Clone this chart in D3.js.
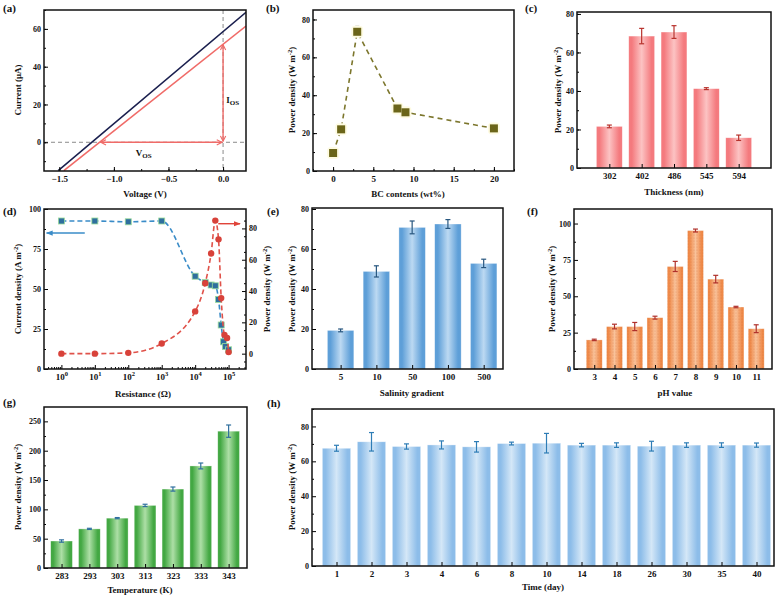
<!DOCTYPE html>
<html><head><meta charset="utf-8">
<script src="https://cdn.jsdelivr.net/npm/d3@7"></script>
<style>
body{margin:0;background:#fff}
svg{display:block}
text{font-family:"Liberation Serif","Times New Roman",serif;font-weight:bold;fill:#111}
.yt text{font-size:8px}
.xt text{font-size:9px}
.ttl{font-size:9px}
.lbl{font-size:11px}
</style>
</head><body>
<svg id="c" width="780" height="597"></svg>
<script>
// ---------- data ----------
// (a)
const aNavyV=[-1.51,0.21], aNavyI=[-15,68.8];
const aRedV=[-1.458,0.21], aRedI=[-15,61.5];
const aVosV=[-1.12,-0.01], aIosI=[0.6,51.6];
// (b)
const bContent=[0,1,3,8,9,20];
const bPower=[9.5,22,73.5,33,31,22.5];
const bErr=[0,0,3,0,0,0];
// (c)
const cThickness=["302","402","486","545","594"];
const cPower=[21.6,68.5,70.6,41.2,15.7];
const cErr=[0.7,4,3.3,0.5,1.4];
// (d)
const dResJ=[1,10,100,1000,10000,20000,30000,40000,50000,60000,70000,80000,100000];
const dJ=[92.5,92.5,92,92.5,58,54,52.5,52,43.5,27.5,17,14,12];
const dResP=[1,10,100,1000,10000,20000,30000,40000,50000,60000,75000,90000,100000];
const dP=[0,0,0.5,6.5,27,45,64,85,73,35.5,12,10,1];
const dArrowJ={y:85, r0:0.36, r1:5};
const dArrowP={y:83, r0:49000, r1:219000};
// (e)
const eGradient=["5","10","50","100","500"];
const ePower=[19.3,48.8,70.8,72.5,52.8];
const eErr=[0.7,2.8,3.2,2.2,2.1];
// (f)
const fPH=["3","4","5","6","7","8","9","10","11"];
const fPower=[20,29.2,29.2,35.3,70.5,95.2,61.8,42.6,27.7];
const fErr=[0.5,1.6,2.8,1,3.5,1,2.6,0.5,2.7];
// (g)
const gTemp=["283","293","303","313","323","333","343"];
const gPower=[46,66.7,85,106.7,134.6,174,233.3];
const gErr=[2,1,1,2,3.5,5,10.5];
// (h)
const hDay=["1","2","3","4","6","8","10","14","18","26","30","35","40"];
const hPower=[67.5,71.2,68.5,69.4,68.3,70.2,70.4,69.3,69.3,68.7,69.3,69.3,69.3];
const hErr=[1.7,5.3,1.5,2.3,3,0.8,5.6,1,1.3,2.8,1.3,1.3,1.2];

// ---------- helpers ----------
const svg=d3.select("#c");
svg.append("rect").attr("width",780).attr("height",597).attr("fill","#fff");
const defs=svg.append("defs");
function grad(id,edge,mid){
  const g=defs.append("linearGradient").attr("id",id).attr("x1",0).attr("x2",1).attr("y1",0).attr("y2",0);
  [[0,edge],[0.12,edge],[0.5,mid],[0.88,edge],[1,edge]].forEach(([o,c])=>g.append("stop").attr("offset",o).attr("stop-color",c));
}
grad("gc","#f47a7e","#fcc3c3");
grad("ge","#5e9fd8","#bcd9f2");
grad("gf","#ef8948","#f9c29a");
grad("gg","#43a843","#addfa6");
grad("gh","#8dbde9","#d4e7f7");
const pat=defs.append("pattern").attr("id","dots").attr("width",3).attr("height",3).attr("patternUnits","userSpaceOnUse");
pat.append("circle").attr("cx",1).attr("cy",1).attr("r",0.55).attr("fill","rgba(190,90,40,0.35)");
function mk(id,color,open){
  const m=defs.append("marker").attr("id",id).attr("viewBox","0 0 8 8").attr("refX",7).attr("refY",4)
    .attr("markerWidth",7).attr("markerHeight",7).attr("markerUnits","userSpaceOnUse").attr("orient","auto-start-reverse");
  if(open) m.append("path").attr("d","M1,1 L7,4 L1,7").attr("fill","none").attr("stroke",color).attr("stroke-width",1.3);
  else m.append("path").attr("d","M0,1 L8,4 L0,7 z").attr("fill",color);
}
mk("arA","#f06b68",true); mk("arB","#3a8cc8",false); mk("arR","#e0443a",false);

function frame(b){
  svg.append("rect").attr("x",b[0]).attr("y",b[1]).attr("width",b[2]-b[0]).attr("height",b[3]-b[1])
    .attr("fill","none").attr("stroke","#111").attr("stroke-width",1.5);
}
function clean(g){ g.selectAll(".domain").remove(); g.attr("font-family",null).attr("font-size",null); }
function yAxis(b,y,major,minor,fmt,right){
  const A=right?d3.axisRight:d3.axisLeft;
  const g=svg.append("g").attr("class","yt").attr("transform",`translate(${right?b[2]:b[0]},0)`);
  g.call(A(y).tickValues(major).tickSize(-4).tickPadding(3).tickFormat(fmt||d3.format("d")));
  if(minor) g.append("g").call(A(y).tickValues(minor).tickSize(-2).tickFormat(""));
  clean(g);
  return g;
}
function xAxis(b,x,major,minor,fmt){
  const g=svg.append("g").attr("class","xt").attr("transform",`translate(0,${b[3]})`);
  g.call(d3.axisBottom(x).tickValues(major).tickSize(-4).tickPadding(5).tickFormat(fmt||d3.format("d")));
  if(minor) g.append("g").attr("class","minor").call(d3.axisBottom(x).tickValues(minor).tickSize(-2).tickFormat(""));
  clean(g);
  return g;
}
function xTitle(cx,yb,t){ svg.append("text").attr("class","ttl").attr("x",cx).attr("y",yb).attr("text-anchor","middle").text(t); }
function yTitle(cx,cy,pre,sup,post){
  const t=svg.append("text").attr("class","ttl").attr("text-anchor","middle")
    .attr("transform",`translate(${cx},${cy}) rotate(-90)`).attr("dy","0.35em");
  t.append("tspan").text(pre);
  if(sup){ t.append("tspan").attr("dy",-3.5).style("font-size","6.5px").text(sup);
           t.append("tspan").attr("dy",3.5).text(post); }
}
function label(x,y,t){ svg.append("text").attr("class","lbl").attr("x",x).attr("y",y).text(t); }
function range(a,b,s){ return d3.range(a,b+1e-9,s); }

function barPanel(o){
  const b=o.box;
  const x=d3.scaleLinear().domain(o.xdom).range([b[0],b[2]]);
  const y=d3.scaleLinear().domain(o.ydom).range([b[3],b[1]]);
  const w=(x(2)-x(1))*o.frac;
  const idx=o.cats.map((c,i)=>i+1);
  const g=svg.append("g");
  g.selectAll("rect.bar").data(o.vals).join("rect").attr("class","bar")
    .attr("x",(d,i)=>x(i+1)-w/2).attr("width",w).attr("y",d=>y(d)).attr("height",d=>y(0)-y(d))
    .attr("fill",`url(#${o.grad})`).attr("stroke","rgba(255,255,255,0.55)").attr("stroke-width",0.6);
  if(o.dots) g.selectAll("rect.dt").data(o.vals).join("rect").attr("class","dt")
    .attr("x",(d,i)=>x(i+1)-w/2).attr("width",w).attr("y",d=>y(d)).attr("height",d=>y(0)-y(d)).attr("fill","url(#dots)");
  const eg=g.append("g").attr("stroke",o.ecol).attr("stroke-width",1.2);
  o.vals.forEach((v,i)=>{
    const e=o.errs[i], cx=x(i+1);
    eg.append("line").attr("x1",cx).attr("x2",cx).attr("y1",y(v-e)).attr("y2",y(v+e));
    [v-e,v+e].forEach(t=>eg.append("line").attr("x1",cx-2.5).attr("x2",cx+2.5).attr("y1",y(t)).attr("y2",y(t)));
  });
  yAxis(b,y,o.ymaj,o.ymin);
  xAxis(b,x,idx,null,d=>o.cats[d-1]);
  frame(b);
}

// ---------- (a) ----------
(function(){
  const b=[44,10,246,171];
  const x=d3.scaleLinear().domain([-1.64,0.21]).range([b[0],b[2]]);
  const y=d3.scaleLinear().domain([-15.2,70]).range([b[3],b[1]]);
  svg.append("clipPath").attr("id","clipA").append("rect").attr("x",b[0]).attr("y",b[1]).attr("width",b[2]-b[0]).attr("height",b[3]-b[1]);
  const g=svg.append("g").attr("clip-path","url(#clipA)");
  g.append("line").attr("x1",b[0]).attr("x2",b[2]).attr("y1",y(0)).attr("y2",y(0)).attr("stroke","#8a8a8a").attr("stroke-dasharray","4,3");
  g.append("line").attr("x1",x(0)).attr("x2",x(0)).attr("y1",b[1]).attr("y2",b[3]).attr("stroke","#8a8a8a").attr("stroke-dasharray","4,3");
  const ln=d3.line().x(d=>x(d[0])).y(d=>y(d[1]));
  g.append("path").attr("d",ln(d3.zip(aNavyV,aNavyI))).attr("stroke","#1a1f4e").attr("stroke-width",1.6).attr("fill","none");
  g.append("path").attr("d",ln(d3.zip(aRedV,aRedI))).attr("stroke","#f06b68").attr("stroke-width",1.6).attr("fill","none");
  g.append("line").attr("x1",x(aVosV[0])).attr("x2",x(aVosV[1])).attr("y1",y(0)).attr("y2",y(0))
    .attr("stroke","#f06b68").attr("stroke-width",1.4).attr("marker-start","url(#arA)").attr("marker-end","url(#arA)");
  g.append("line").attr("x1",x(0)).attr("x2",x(0)).attr("y1",y(aIosI[0])).attr("y2",y(aIosI[1]))
    .attr("stroke","#f06b68").attr("stroke-width",1.4).attr("marker-start","url(#arA)").attr("marker-end","url(#arA)");
  const tv=svg.append("text").attr("class","ttl").attr("x",x(-0.8)).attr("y",y(-7)).attr("font-size","10px");
  tv.append("tspan").text("V"); tv.append("tspan").attr("dy",2).style("font-size","7px").text("OS");
  const ti=svg.append("text").attr("class","ttl").attr("x",x(0.03)).attr("y",y(21)).attr("font-size","10px");
  ti.append("tspan").text("I"); ti.append("tspan").attr("dy",2).style("font-size","7px").text("OS");
  yAxis(b,y,[0,20,40,60],range(-10,70,10));
  xAxis(b,x,[-1.5,-1,-0.5,0],range(-1.5,0.2,0.25),d3.format(".1f"));
  frame(b);
  label(3,12,"(a)");
  xTitle(145,197,"Voltage (V)");
  yTitle(18,90,"Current (\u03bcA)");
})();

// ---------- (b) ----------
(function(){
  const b=[313,10,514,171];
  const x=d3.scaleLinear().domain([-2.5,22.5]).range([b[0],b[2]]);
  const y=d3.scaleLinear().domain([0,85]).range([b[3],b[1]]);
  const pts=d3.zip(bContent,bPower);
  svg.append("path").attr("d",d3.line().x(d=>x(d[0])).y(d=>y(d[1]))(pts))
    .attr("fill","none").attr("stroke","#7c762c").attr("stroke-width",1.6).attr("stroke-dasharray","5,4");
  bContent.forEach((c,i)=>{ if(bErr[i]){
    const g=svg.append("g").attr("stroke","#b0b0a0").attr("stroke-width",0.8);
    g.append("line").attr("x1",x(c)).attr("x2",x(c)).attr("y1",y(bPower[i])).attr("y2",y(bPower[i]+bErr[i]));
    g.append("line").attr("x1",x(c)-2).attr("x2",x(c)+2).attr("y1",y(bPower[i]+bErr[i])).attr("y2",y(bPower[i]+bErr[i]));
  }});
  svg.selectAll("rect.halo").data(pts).join("rect").attr("class","halo")
    .attr("x",d=>x(d[0])-6).attr("y",d=>y(d[1])-6).attr("width",12).attr("height",12).attr("rx",4).attr("fill","#fefbe2");
  svg.selectAll("rect.mk").data(pts).join("rect").attr("class","mk")
    .attr("x",d=>x(d[0])-4).attr("y",d=>y(d[1])-4).attr("width",8).attr("height",8).attr("fill","#6b6519");
  yAxis(b,y,[0,20,40,60,80],range(10,80,10));
  xAxis(b,x,[0,5,10,15,20],range(-2.5,22.5,2.5));
  frame(b);
  label(266,12,"(b)");
  xTitle(408,197,"BC contents (wt%)");
  yTitle(292,90,"Power density (W m","-2",")");
})();

// ---------- (c) ----------
barPanel({box:[577,12,771,168],cats:cThickness,vals:cPower,errs:cErr,xdom:[0,6],ydom:[0,81],frac:0.8,
  grad:"gc",ecol:"#b8322c",ymaj:[0,20,40,60,80],ymin:range(10,80,10)});
label(525,12,"(c)");
xTitle(674,195,"Thickness (nm)");
yTitle(558,90,"Power density (W m","-2",")");

// ---------- (d) ----------
(function(){
  const b=[44,209,246,369];
  const x=d3.scaleLog().domain([Math.pow(10,-0.52),Math.pow(10,5.52)]).range([b[0],b[2]]);
  const yL=d3.scaleLinear().domain([0,100]).range([b[3],b[1]]);
  const yR=d3.scaleLinear().domain([-9.8,92.4]).range([b[3],b[1]]);
  const cv=d3.curveMonotoneX;
  const pJ=d3.zip(dResJ,dJ), pP=d3.zip(dResP,dP);
  svg.append("path").attr("d",d3.line().x(d=>x(d[0])).y(d=>yL(d[1])).curve(cv)(pJ))
    .attr("fill","none").attr("stroke","#3a8cc8").attr("stroke-width",1.6).attr("stroke-dasharray","5,3");
  svg.selectAll("rect.dj").data(pJ).join("rect").attr("class","dj")
    .attr("x",d=>x(d[0])-3).attr("y",d=>yL(d[1])-3).attr("width",6).attr("height",6)
    .attr("fill","#2f6f9e").attr("stroke","#9bdc9b").attr("stroke-width",0.8);
  svg.append("path").attr("d",d3.line().x(d=>x(d[0])).y(d=>yR(d[1])).curve(cv)(pP))
    .attr("fill","none").attr("stroke","#e0524a").attr("stroke-width",1.6).attr("stroke-dasharray","5,3");
  svg.selectAll("circle.dp").data(pP).join("circle").attr("class","dp")
    .attr("cx",d=>x(d[0])).attr("cy",d=>yR(d[1])).attr("r",3.2).attr("fill","#d8423a");
  svg.append("line").attr("x1",x(dArrowJ.r1)).attr("x2",x(dArrowJ.r0)).attr("y1",yL(dArrowJ.y)).attr("y2",yL(dArrowJ.y))
    .attr("stroke","#3a8cc8").attr("stroke-width",1.4).attr("marker-end","url(#arB)");
  svg.append("line").attr("x1",x(dArrowP.r0)).attr("x2",x(dArrowP.r1)).attr("y1",yR(dArrowP.y)).attr("y2",yR(dArrowP.y))
    .attr("stroke","#e0443a").attr("stroke-width",1.4).attr("marker-end","url(#arR)");
  yAxis(b,yL,[0,25,50,75,100],range(12.5,87.5,25));
  yAxis(b,yR,[0,20,40,60,80],range(-5,90,10).filter(v=>v%20!==0),null,true);
  const maj=[1,10,100,1e3,1e4,1e5];
  const minr=[]; [-1,0,1,2,3,4,5].forEach(e=>{for(let k=2;k<10;k++){const v=k*Math.pow(10,e); if(v>x.domain()[0]&&v<x.domain()[1]) minr.push(v);}});
  const gx=xAxis(b,x,maj,minr,()=>"");
  gx.selectAll(":scope > .tick text").each(function(d){
    const t=d3.select(this); t.text(null);
    t.append("tspan").text("10");
    t.append("tspan").attr("dy",-4).style("font-size","6.5px").text(Math.round(Math.log10(d)));
  });
  gx.selectAll(".minor text").remove();
  frame(b);
  label(3,215,"(d)");
  xTitle(143,397,"Resistance (\u03a9)");
  yTitle(18,289,"Current density (A m","-2",")");
  yTitle(267,289,"Power density (W m","-2",")");
})();

// ---------- (e) ----------
barPanel({box:[312,208,503,369],cats:eGradient,vals:ePower,errs:eErr,xdom:[0.2,5.54],ydom:[0,80.5],frac:0.74,
  grad:"ge",ecol:"#27567f",ymaj:[0,20,40,60,80],ymin:range(10,80,10)});
label(267,215,"(e)");
xTitle(412,396,"Salinity gradient");
yTitle(292,289,"Power density (W m","-2",")");

// ---------- (f) ----------
barPanel({box:[574,209,772,369],cats:fPH,vals:fPower,errs:fErr,xdom:[0,9.78],ydom:[0,110],frac:0.79,dots:true,
  grad:"gf",ecol:"#b0302a",ymaj:[0,25,50,75,100],ymin:range(12.5,100,12.5).filter(v=>v%25!==0)});
label(527,215,"(f)");
xTitle(675,396,"pH value");
yTitle(552,289,"Power density (W m","-2",")");

// ---------- (g) ----------
barPanel({box:[44,407,247,568],cats:gTemp,vals:gPower,errs:gErr,xdom:[0.37,7.66],ydom:[0,274.5],frac:0.78,
  grad:"gg",ecol:"#2f6f9e",ymaj:[0,50,100,150,200,250],ymin:range(25,250,50)});
label(3,406,"(g)");
xTitle(140,593,"Temperature (K)");
yTitle(18,487,"Power density (W m","-2",")");

// ---------- (h) ----------
barPanel({box:[312,409,774,566],cats:hDay,vals:hPower,errs:hErr,xdom:[0.3,13.5],ydom:[0,90],frac:0.81,
  grad:"gh",ecol:"#2e7db6",ymaj:[0,20,40,60,80],ymin:range(10,90,10).filter(v=>v%20!==0)});
label(267,407,"(h)");
xTitle(543,590,"Time (day)");
yTitle(292,487,"Power density (W m","-2",")");
</script>
</body></html>
